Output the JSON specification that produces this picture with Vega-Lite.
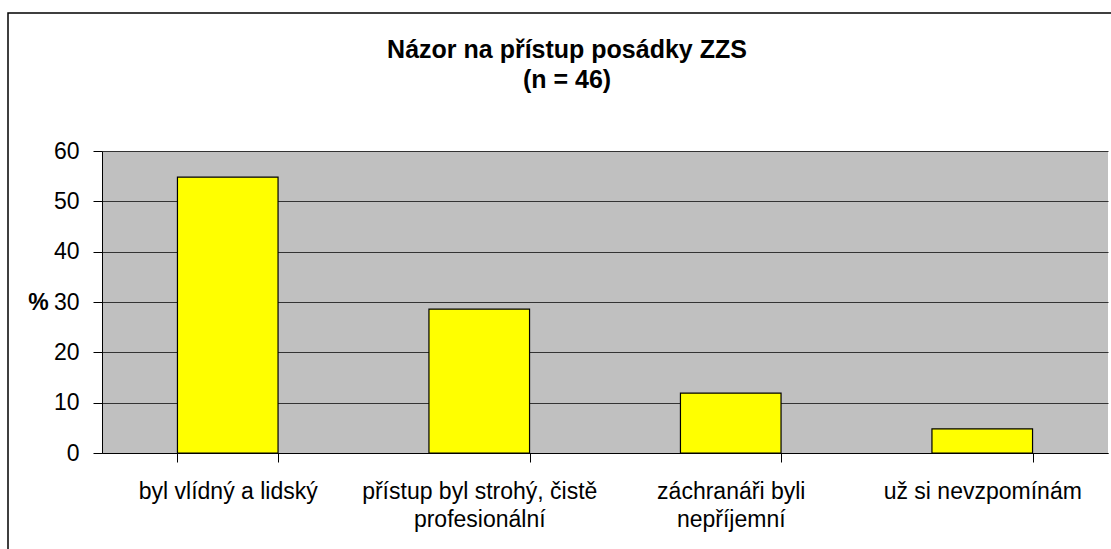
{
  "$schema": "https://vega.github.io/schema/vega-lite/v6.json",
  "width": 1006,
  "height": 302,
  "autosize": "none",
  "padding": {"left": 102, "top": 151, "right": 3, "bottom": 96},
  "background": "white",
  "title": {
    "text": ["Názor na přístup posádky ZZS", "(n = 46)"],
    "font": "Liberation Sans",
    "fontSize": 25,
    "fontWeight": "bold",
    "color": "black",
    "lineHeight": 30,
    "anchor": "middle",
    "baseline": "bottom",
    "offset": -106,
    "dx": -38
  },
  "config": {
    "view": {"fill": "#C0C0C0", "stroke": null}
  },
  "data": {
    "values": [
      {"odpoved": "byl vlídný a lidský", "procento": 54.8},
      {"odpoved": "přístup byl strohý, čistě profesionální", "procento": 28.6},
      {"odpoved": "záchranáři byli nepříjemní", "procento": 11.9},
      {"odpoved": "už si nevzpomínám", "procento": 4.8}
    ]
  },
  "layer": [
    {
      "data": {"values": [{"ramecek": 1}]},
      "mark": {"type": "rect", "fill": null, "stroke": "black", "strokeWidth": 1.5},
      "encoding": {
        "x": {"value": -94},
        "y": {"value": -138},
        "x2": {"value": 1100},
        "y2": {"value": 420}
      }
    },
    {
      "mark": {"type": "bar", "fill": "#FFFF00", "stroke": "black", "strokeWidth": 1.2},
      "encoding": {
        "x": {
          "field": "odpoved",
          "type": "nominal",
          "sort": null,
          "scale": {"paddingInner": 0.6, "paddingOuter": 0.3},
          "axis": {
            "title": null,
            "labelAngle": 0,
            "labelFont": "Liberation Sans",
            "labelFontSize": 23,
            "labelColor": "black",
            "labelLineHeight": 28,
            "labelPadding": 18,
            "labelLimit": 0,
            "labelBaseline": "top",
            "tickBand": "extent",
            "tickSize": 9,
            "tickColor": "black",
            "domainColor": "black",
            "domainWidth": 1,
            "grid": false,
            "labelExpr": "datum.value == 'přístup byl strohý, čistě profesionální' ? ['přístup byl strohý, čistě', 'profesionální'] : datum.value == 'záchranáři byli nepříjemní' ? ['záchranáři byli', 'nepříjemní'] : datum.value"
          }
        },
        "y": {
          "field": "procento",
          "type": "quantitative",
          "scale": {"domain": [0, 60], "nice": false},
          "axis": {
            "title": "%",
            "titleAngle": 0,
            "titleFont": "Liberation Sans",
            "titleFontSize": 23,
            "titleFontWeight": "bold",
            "titleColor": "black",
            "titleX": -64,
            "titleY": 151,
            "titleAlign": "center",
            "titleBaseline": "middle",
            "values": [0, 10, 20, 30, 40, 50, 60],
            "labelFont": "Liberation Sans",
            "labelFontSize": 23,
            "labelColor": "black",
            "labelPadding": 14,
            "tickSize": 9,
            "tickColor": "black",
            "domainColor": "black",
            "gridColor": "#333333",
            "gridWidth": 1,
            "gridOpacity": 1
          }
        }
      }
    }
  ]
}
